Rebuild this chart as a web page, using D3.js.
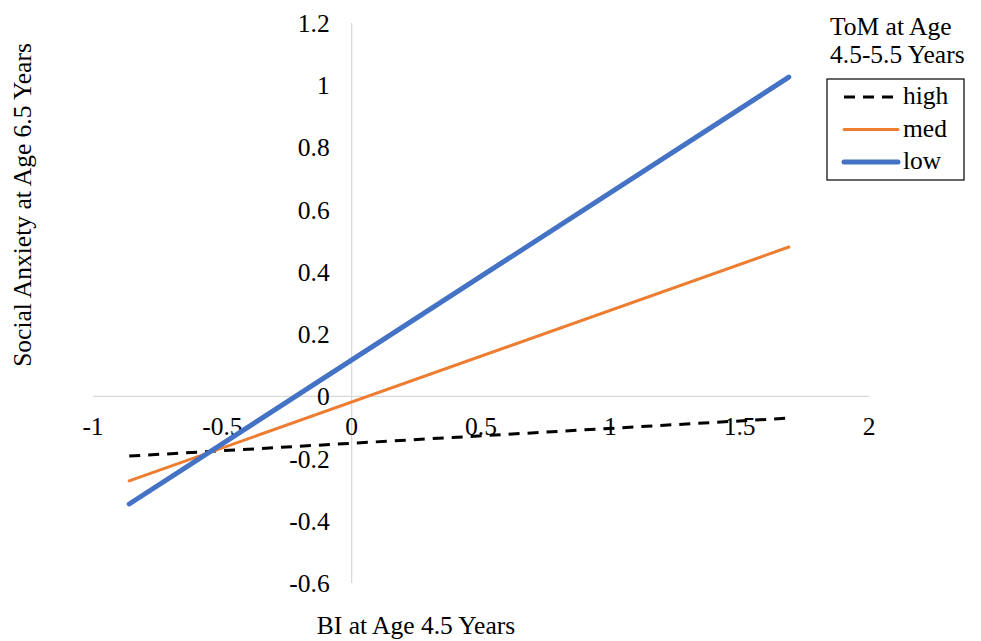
<!DOCTYPE html>
<html><head><meta charset="utf-8">
<script src="https://cdn.jsdelivr.net/npm/d3@7"></script>
<style>body{margin:0;background:#fff}svg{display:block}text{font-family:"Liberation Serif","Times New Roman",serif;fill:#000}</style>
</head><body><svg id="c" width="981" height="641"></svg>
<script>
const xTicks = [-1, -0.5, 0, 0.5, 1, 1.5, 2];
const yTicks = [-0.6, -0.4, -0.2, 0, 0.2, 0.4, 0.6, 0.8, 1, 1.2];
const xPoints = [-0.86, 1.69];
const seriesNames = ["high", "med", "low"];
const highValues = [-0.192, -0.07];
const medValues = [-0.272, 0.48];
const lowValues = [-0.346, 1.026];
const legendTitle = ["ToM at Age", "4.5-5.5 Years"];

const series = [
  {name: seriesNames[0], values: highValues, color: "#000", width: 3, dash: "11,8"},
  {name: seriesNames[1], values: medValues, color: "#ED7D31", width: 3, dash: null},
  {name: seriesNames[2], values: lowValues, color: "#4472C4", width: 5, dash: null}
];
const FS = 25.5;

const svg = d3.select("#c");
const x = d3.scaleLinear().domain([-1, 2]).range([93, 869]);
const y = d3.scaleLinear().domain([-0.6, 1.2]).range([583, 23]);

svg.append("line").attr("x1", x(-1)).attr("x2", x(2)).attr("y1", y(0)).attr("y2", y(0))
  .attr("stroke", "#d9d9d9").attr("stroke-width", 1.3);
svg.append("line").attr("x1", x(0)).attr("x2", x(0)).attr("y1", y(1.2)).attr("y2", y(-0.6))
  .attr("stroke", "#d9d9d9").attr("stroke-width", 1.3);

svg.append("g").selectAll("text").data(yTicks).join("text")
  .attr("x", x(0) - 22).attr("y", d => y(d) + 9)
  .attr("text-anchor", "end").attr("font-size", FS)
  .text(d => String(d));

svg.append("g").selectAll("text").data(xTicks).join("text")
  .attr("x", d => x(d)).attr("y", y(0) + 39)
  .attr("text-anchor", "middle").attr("font-size", FS)
  .text(d => String(d));

const line = d3.line().x((d, i) => x(xPoints[i])).y(d => y(d));
series.forEach(s => {
  svg.append("path").attr("d", line(s.values)).attr("fill", "none")
    .attr("stroke", s.color).attr("stroke-width", s.width)
    .attr("stroke-linecap", s.dash ? "butt" : "round")
    .attr("stroke-dasharray", s.dash);
});

svg.append("text").attr("x", 416).attr("y", 634)
  .attr("text-anchor", "middle").attr("font-size", FS).text("BI at Age 4.5 Years");
svg.append("text").attr("transform", "translate(31,205) rotate(-90)")
  .attr("text-anchor", "middle").attr("font-size", FS).text("Social Anxiety at Age 6.5 Years");

const lg = svg.append("g");
lg.selectAll("text.t").data(legendTitle).join("text").attr("class", "t")
  .attr("x", 830).attr("y", (d, i) => 35 + i * 28)
  .attr("font-size", FS).text(d => d);
lg.append("rect").attr("x", 827).attr("y", 79).attr("width", 137).attr("height", 101)
  .attr("fill", "none").attr("stroke", "#000").attr("stroke-width", 1.2);
series.forEach((s, i) => {
  const yy = 97 + i * 32.5;
  lg.append("line").attr("x1", 844).attr("x2", 898).attr("y1", yy).attr("y2", yy)
    .attr("stroke", s.color).attr("stroke-width", s.width)
    .attr("stroke-dasharray", s.dash).attr("stroke-linecap", s.dash ? "butt" : "round");
  lg.append("text").attr("x", 903).attr("y", yy + 7)
    .attr("font-size", FS).text(s.name);
});
</script></body></html>
